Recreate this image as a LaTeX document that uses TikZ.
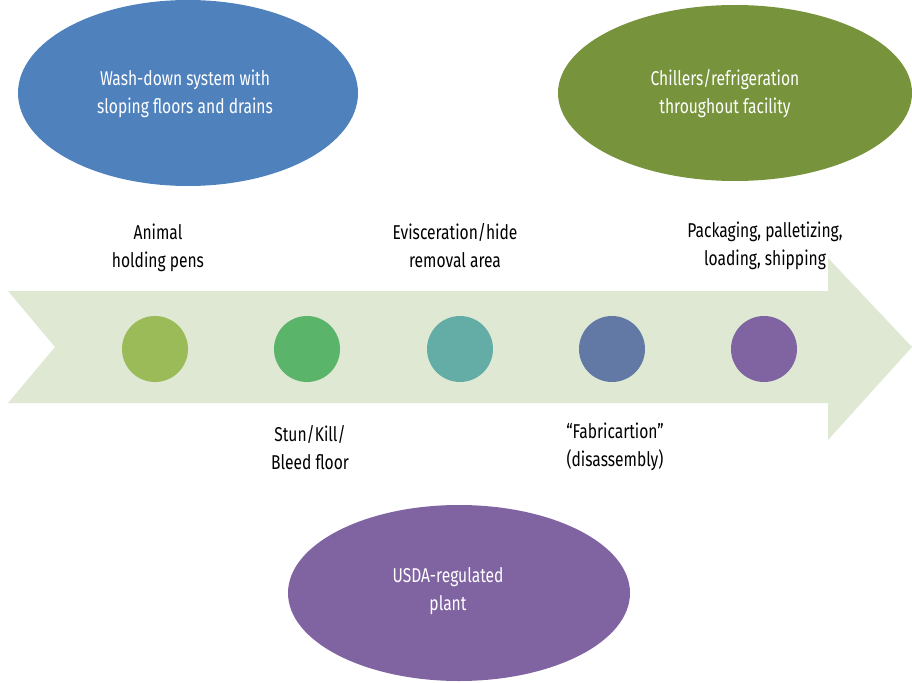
\documentclass[tikz,border=0pt]{standalone}
\usepackage{fontspec}
\setmainfont{Fira Sans}[FakeStretch=0.78]
\usetikzlibrary{shapes.geometric}
\definecolor{ellblue}{HTML}{4F81BD}
\definecolor{ellgreen}{HTML}{77933C}
\definecolor{ellpurple}{HTML}{8064A2}
\definecolor{arrowfill}{HTML}{DFE8D3}
\definecolor{cA}{HTML}{9BBB59}
\definecolor{cB}{HTML}{5AB46A}
\definecolor{cC}{HTML}{63ADA6}
\definecolor{cD}{HTML}{6279A5}
\definecolor{cE}{HTML}{8064A2}
\tikzset{
  bigell/.style={ellipse, inner sep=0pt},
  elltext/.style={text=white, align=center, font=\fontsize{20}{28}\selectfont, inner sep=0pt},
  dot/.style={circle, minimum size=66pt, inner sep=0pt},
  lab/.style={align=center, font=\fontsize{20}{28}\selectfont, text=black, inner sep=0pt}
}
\begin{document}
\begin{tikzpicture}[x=1pt,y=-1pt]
\useasboundingbox (0,0) rectangle (912,682);
% arrow
\fill[arrowfill] (8,291) -- (828,291) -- (828,258) -- (912,347) -- (828,440) -- (828,403) -- (8,403) -- (55,347) -- cycle;
% ellipses
\node[bigell, fill=ellblue, minimum width=340pt, minimum height=186pt] (wash) at (188,93) {};
\node[elltext] (washtxt) at (185,94) {Wash-down system with\\sloping floors and drains};
\node[bigell, fill=ellgreen, minimum width=354pt, minimum height=176pt] (chill) at (735,93) {};
\node[elltext] (chilltxt) at (725,94) {Chillers/refrigeration\\throughout facility};
\node[bigell, fill=ellpurple, minimum width=342pt, minimum height=176pt] (usda) at (459,593) {};
\node[elltext] (usdatxt) at (448,591) {USDA-regulated\\plant};
% dots
\node[dot, fill=cA] (d1) at (155,349) {};
\node[dot, fill=cB] (d2) at (307,349) {};
\node[dot, fill=cC] (d3) at (460,349) {};
\node[dot, fill=cD] (d4) at (612,349) {};
\node[dot, fill=cE] (d5) at (764,349) {};
% labels
\node[lab] (l1) at (158,248) {Animal\\holding pens};
\node[lab] (l2) at (310,448) {Stun/Kill/\\Bleed floor};
\node[lab] (l3) at (455,246) {Evisceration/hide\\removal area};
\node[lab] (l4) at (615,447) {“Fabricartion”\\(disassembly)};
\node[lab] (l5) at (765,246) {Packaging, palletizing,\\loading, shipping};
\end{tikzpicture}
\end{document}
